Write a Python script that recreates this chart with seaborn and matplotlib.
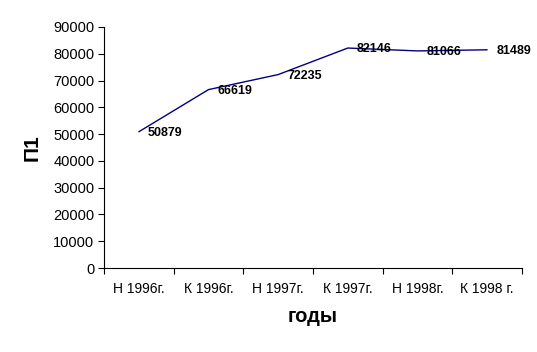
import matplotlib
matplotlib.use("Agg")
import matplotlib.pyplot as plt
import seaborn as sns
import pandas as pd

categories = ["Н 1996г.", "К 1996г.", "Н 1997г.", "К 1997г.", "Н 1998г.", "К 1998 г."]
values = [50879, 66619, 72235, 82146, 81066, 81489]
yticks = [0, 10000, 20000, 30000, 40000, 50000, 60000, 70000, 80000, 90000]

sns.set_style("white")
plt.rcParams['font.family'] = ['Liberation Sans', 'DejaVu Sans']
plt.rcParams['text.color'] = 'black'
plt.rcParams['xtick.color'] = 'black'
plt.rcParams['ytick.color'] = 'black'
plt.rcParams['axes.labelcolor'] = 'black'

df = pd.DataFrame({"x": range(len(categories)), "y": values})

fig = plt.figure(figsize=(5.37, 3.52), dpi=100)
ax = fig.add_axes([104/537, 1-268/352, (522-104)/537, (268-27)/352])
sns.lineplot(data=df, x="x", y="y", ax=ax, color="#000080", linewidth=1.0)

for i, v in enumerate(values):
    ax.annotate(str(v), (i, v), xytext=(6.5, -1), textcoords="offset points",
                ha="left", va="center", fontsize=9, fontweight="bold", color="black")

ax.set_xlim(-0.5, len(categories) - 0.5)
ax.set_ylim(0, 90000)
ax.set_yticks(yticks)
ax.set_yticklabels([str(t) for t in yticks], fontsize=10.5)
ax.set_xticks([i - 0.5 for i in range(len(categories) + 1)])
ax.set_xticklabels([])
ax.set_xticks(range(len(categories)), minor=True)
ax.set_xticklabels(categories, minor=True, fontsize=10)
ax.tick_params(axis="x", which="major", direction="out", length=4, width=0.8, color="black", bottom=True)
ax.tick_params(axis="x", which="minor", length=0, pad=10)
ax.tick_params(axis="y", direction="out", length=4, width=0.8, color="black", left=True, pad=3)

for s in ["top", "right"]:
    ax.spines[s].set_visible(False)
for s in ["left", "bottom"]:
    ax.spines[s].set_color("black")
    ax.spines[s].set_linewidth(0.8)

ax.set_xlabel("годы", fontsize=14.5, fontweight="bold", labelpad=8)
ax.set_ylabel("П1", fontsize=15, fontweight="bold", labelpad=8)

fig.savefig("out.png", dpi=100)
